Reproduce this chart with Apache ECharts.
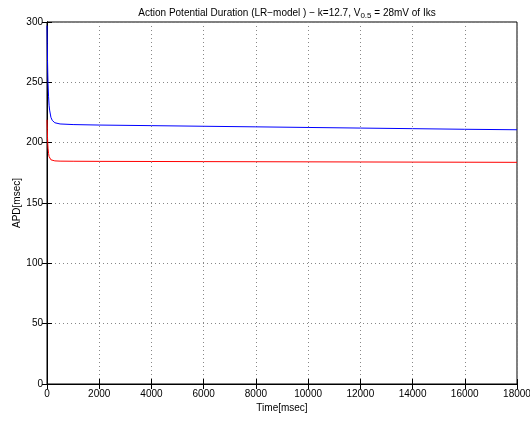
<!DOCTYPE html>
<html><head><meta charset="utf-8">
<script src="https://cdn.jsdelivr.net/npm/echarts@6/dist/echarts.min.js"></script>
<style>html,body{margin:0;padding:0;background:#fff}#c{width:530px;height:425px}</style>
</head><body><div id="c"></div>
<script>
const xTicks = [0,2000,4000,6000,8000,10000,12000,14000,16000,18000];
const yTicks = [0,50,100,150,200,250,300];
const blueTime = [0,10,20,30,40,60,80,100,150,200,300,500,1000,2000,4000,6000,8000,10000,12000,14000,16000,18000];
const blueAPD  = [297,282,268,257,249,238,231,227,221,218.5,216.5,215.5,215,214.6,214.1,213.6,213.1,212.6,212.1,211.6,211.1,210.7];
const redTime = [0,10,20,30,40,60,80,100,150,200,300,500,1000,2000,4000,6000,8000,10000,12000,14000,16000,18000];
const redAPD  = [219,211,204,199,195.5,191,188.5,187,185.8,185.2,184.9,184.7,184.6,184.5,184.4,184.3,184.2,184.1,184,183.9,183.8,183.7];

const chart = echarts.init(document.getElementById('c'));
const font = 'Liberation Sans, Arial, Helvetica, sans-serif';
const zip = (a,b) => a.map((v,i)=>[v,b[i]]);
chart.setOption({
  animation:false,
  backgroundColor:'#fff',
  title:{
    text:'Action Potential Duration (LR\u2212model ) \u2212 k=12.7, V{sub|0.5} = 28mV of Iks',
    left:282, top:1, textAlign:'center',
    textStyle:{fontFamily:font,fontSize:10,fontWeight:'normal',color:'#000',
      rich:{sub:{fontFamily:font,fontSize:8,color:'#000',verticalAlign:'bottom',padding:[6,0,0,0]}}}
  },
  grid:{left:47,right:13,top:22,bottom:41,show:true,borderColor:'#000',borderWidth:1,outerBoundsMode:'none',containLabel:false},
  xAxis:[{
    type:'value',min:0,max:18000,interval:2000,position:'bottom',
    name:'Time[msec]',nameLocation:'middle',nameGap:19,nameMoveOverlap:false,
    nameTextStyle:{fontFamily:font,fontSize:10,color:'#000'},
    axisLine:{show:true,lineStyle:{color:'#000',width:1}},
    axisTick:{show:true,inside:true,length:5,lineStyle:{color:'#000'}},
    axisLabel:{fontFamily:font,fontSize:10,color:'#000',margin:5,formatter:v=>String(v)},
    splitLine:{show:true,lineStyle:{color:'#888',type:[1,3],width:1}}
  },{
    type:'value',min:0,max:18000,interval:2000,position:'top',
    axisLine:{show:true,lineStyle:{color:'#000'}},
    axisTick:{show:true,inside:true,length:5,lineStyle:{color:'#000'}},
    axisLabel:{show:false},splitLine:{show:false}
  }],
  yAxis:[{
    type:'value',min:0,max:300,interval:50,position:'left',
    name:'APD[msec]',nameLocation:'middle',nameGap:25,nameRotate:90,nameMoveOverlap:false,
    nameTextStyle:{fontFamily:font,fontSize:10,color:'#000'},
    axisLine:{show:true,lineStyle:{color:'#000',width:1}},
    axisTick:{show:true,inside:true,length:5,lineStyle:{color:'#000'}},
    axisLabel:{fontFamily:font,fontSize:10,color:'#000',margin:4,formatter:v=>String(v)},
    splitLine:{show:true,lineStyle:{color:'#888',type:[1,3],width:1}}
  },{
    type:'value',min:0,max:300,interval:50,position:'right',
    axisLine:{show:true,lineStyle:{color:'#000'}},
    axisTick:{show:true,inside:true,length:5,lineStyle:{color:'#000'}},
    axisLabel:{show:false},splitLine:{show:false}
  }],
  series:[
    {type:'line',data:zip(blueTime,blueAPD),showSymbol:false,lineStyle:{color:'#0000ff',width:1},smooth:false},
    {type:'line',data:zip(redTime,redAPD),showSymbol:false,lineStyle:{color:'#ff0000',width:1},smooth:false}
  ]
});
</script></body></html>
